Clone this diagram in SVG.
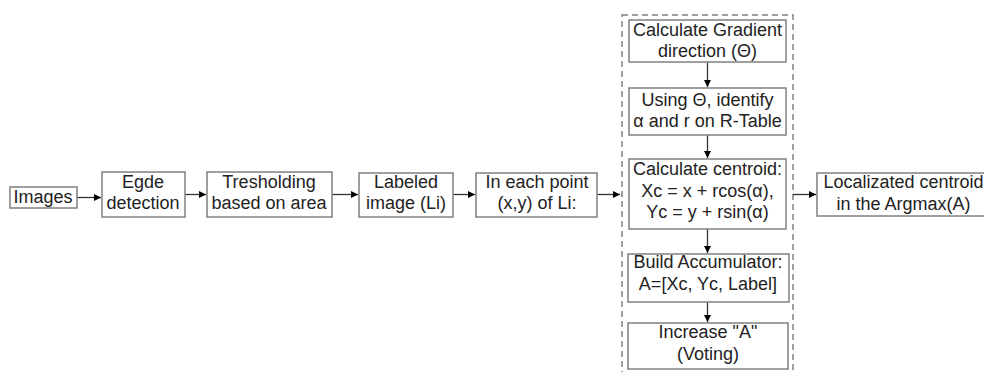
<svg xmlns="http://www.w3.org/2000/svg" width="984" height="372" viewBox="0 0 984 372">
<defs>
<marker id="ah" markerWidth="8" markerHeight="8" refX="7" refY="4" orient="auto" markerUnits="userSpaceOnUse">
<path d="M0,0.5 L7,4 L0,7.5 Z" fill="#000"/>
</marker>
<style>
.box{fill:#fff;stroke:#808080;stroke-width:1.5}
.t{font-family:"Liberation Sans",Arial,sans-serif;font-size:18px;fill:#222;text-anchor:middle}
.c{stroke:#333;stroke-width:1.3;fill:none;marker-end:url(#ah)}
.dash{fill:none;stroke:#808080;stroke-width:1.5;stroke-dasharray:6,4}
</style>
</defs>
<rect width="984" height="372" fill="#fff"/>
<rect id="container" class="dash" x="622" y="15" width="171" height="370"/>
<g id="connectors">
<line class="c" x1="77" y1="197.5" x2="101" y2="197.5"/>
<line class="c" x1="185" y1="194.5" x2="206" y2="194.5"/>
<line class="c" x1="332" y1="194.5" x2="358" y2="194.5"/>
<line class="c" x1="453" y1="194.5" x2="475" y2="194.5"/>
<line class="c" x1="597" y1="194.5" x2="620" y2="194.5"/>
<line class="c" x1="707.5" y1="62" x2="707.5" y2="87"/>
<line class="c" x1="707.5" y1="135" x2="707.5" y2="158"/>
<line class="c" x1="707.5" y1="229" x2="707.5" y2="253"/>
<line class="c" x1="707.5" y1="302" x2="707.5" y2="322"/>
<line class="c" x1="793" y1="194.5" x2="816" y2="194.5"/>
</g>
<g id="images">
<rect class="box" x="10" y="187" width="67" height="21"/>
<text class="t" x="43" y="203">Images</text>
</g>
<g id="edge">
<rect class="box" x="102" y="172" width="83" height="45"/>
<text class="t" x="143" y="188">Egde</text>
<text class="t" x="143" y="209">detection</text>
</g>
<g id="threshold">
<rect class="box" x="207" y="172" width="125" height="45"/>
<text class="t" x="269" y="188">Tresholding</text>
<text class="t" x="269" y="209">based on area</text>
</g>
<g id="labeled">
<rect class="box" x="359" y="173" width="94" height="44"/>
<text class="t" x="406" y="188">Labeled</text>
<text class="t" x="406" y="209">image (Li)</text>
</g>
<g id="eachpoint">
<rect class="box" x="476" y="173" width="121" height="44"/>
<text class="t" x="537" y="188">In each point</text>
<text class="t" x="537" y="209">(x,y) of Li:</text>
</g>
<g id="gradient">
<rect class="box" x="629" y="20" width="157" height="42"/>
<text class="t" x="707.5" y="36">Calculate Gradient</text>
<text class="t" x="707.5" y="57">direction (Θ)</text>
</g>
<g id="rtable">
<rect class="box" x="629" y="88" width="157" height="47"/>
<text class="t" x="707.5" y="106">Using Θ, identify</text>
<text class="t" x="707.5" y="127">α and r on R-Table</text>
</g>
<g id="centroid">
<rect class="box" x="629" y="159" width="157" height="70"/>
<text class="t" x="707.5" y="175">Calculate centroid:</text>
<text class="t" x="707.5" y="197">Xc = x + rcos(α),</text>
<text class="t" x="707.5" y="218">Yc = y + rsin(α)</text>
</g>
<g id="accumulator">
<rect class="box" x="628" y="254" width="161" height="48"/>
<text class="t" x="708" y="268">Build Accumulator:</text>
<text class="t" x="708" y="290">A=[Xc, Yc, Label]</text>
</g>
<g id="voting">
<rect class="box" x="628" y="323" width="160" height="46"/>
<text class="t" x="708" y="338">Increase "A"</text>
<text class="t" x="708" y="360">(Voting)</text>
</g>
<g id="localized">
<rect class="box" x="817" y="173" width="173" height="43"/>
<text class="t" x="903.5" y="188">Localizated centroid</text>
<text class="t" x="903.5" y="210">in the Argmax(A)</text>
</g>
</svg>
